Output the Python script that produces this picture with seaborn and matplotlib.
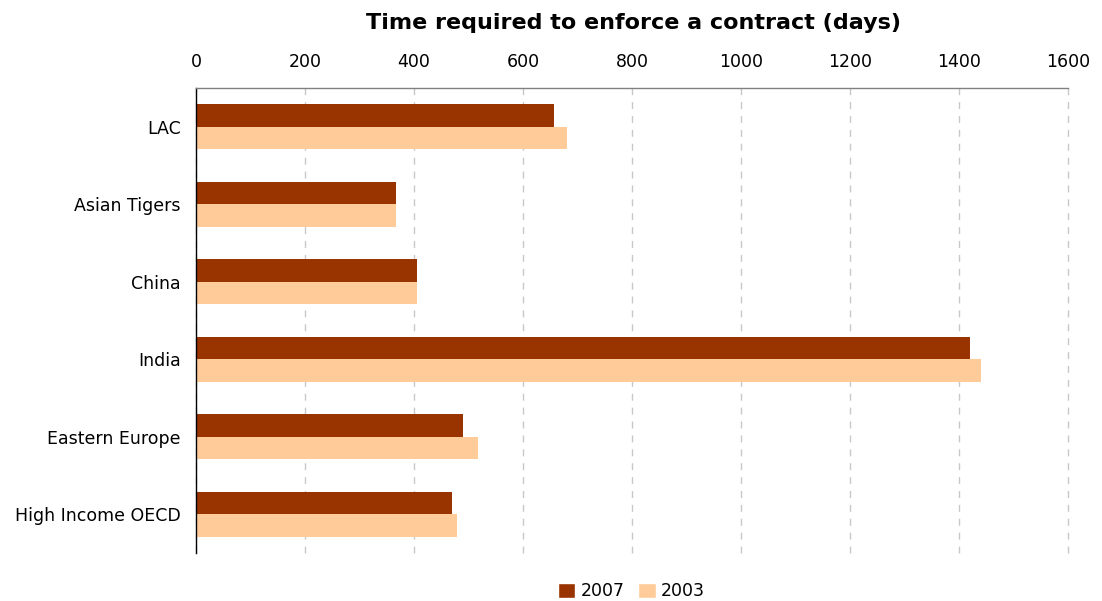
"""
Time required to enforce a contract, 2007 vs 2003.
"""

import matplotlib.pyplot as plt
import pandas as pd
import seaborn as sns
from matplotlib.patches import Patch

# data
regions = ["LAC", "Asian Tigers", "China", "India", "Eastern Europe", "High Income OECD"]
days_2007 = [657, 366, 406, 1420, 489, 469]
days_2003 = [680, 366, 406, 1440, 518, 478]
years = ["2007", "2003"]
colors = ["#993300", "#FFCC99"]

df = pd.DataFrame(
    {
        "region": regions * 2,
        "days": days_2007 + days_2003,
        "year": ["2007"] * len(regions) + ["2003"] * len(regions),
    }
)

sns.set_style("white")
plt.rcParams["font.family"] = ["DejaVu Sans"]
plt.rcParams["text.color"] = "black"

fig = plt.figure(figsize=(11.02, 6.01), dpi=100)
ax = fig.add_axes([0.178, 0.08, 0.791, 0.774])

sns.barplot(
    data=df,
    y="region",
    x="days",
    hue="year",
    hue_order=years,
    order=regions,
    palette=colors,
    orient="h",
    width=0.58,
    saturation=1,
    linewidth=0,
    legend=False,
    ax=ax,
)

ax.set_xlim(0, 1600)
ax.set_ylim(5.5, -0.5)
ax.set_xticks(range(0, 1601, 200))
ax.xaxis.tick_top()
ax.tick_params(axis="x", labelsize=12.5, length=0, pad=12, labelcolor="black")
ax.tick_params(axis="y", labelsize=12.5, length=0, pad=11, labelcolor="black")
ax.set(xlabel=None, ylabel=None)
ax.grid(axis="x", color="#C8C8C8", linestyle=(0, (5, 5)), linewidth=1)
for gl in ax.get_xgridlines():
    gl.set_clip_on(False)
ax.set_axisbelow(True)

for side in ["right", "bottom"]:
    ax.spines[side].set_visible(False)
ax.spines["left"].set_color("black")
ax.spines["left"].set_linewidth(1)
ax.spines["top"].set_color("#808080")
ax.spines["top"].set_linewidth(1)

fig.suptitle(
    "Time required to enforce a contract (days)",
    fontsize=16,
    fontweight="heavy",
    color="black",
    x=0.575,
    y=0.978,
)

handles = [Patch(facecolor=c, label=y) for c, y in zip(colors, years)]
fig.legend(
    handles=handles,
    loc="lower center",
    bbox_to_anchor=(0.573, -0.025),
    ncol=2,
    frameon=False,
    fontsize=12.5,
    handlelength=1.0,
    handleheight=1.0,
    handletextpad=0.3,
    columnspacing=0.8,
)

plt.savefig("out.png", dpi=100)
